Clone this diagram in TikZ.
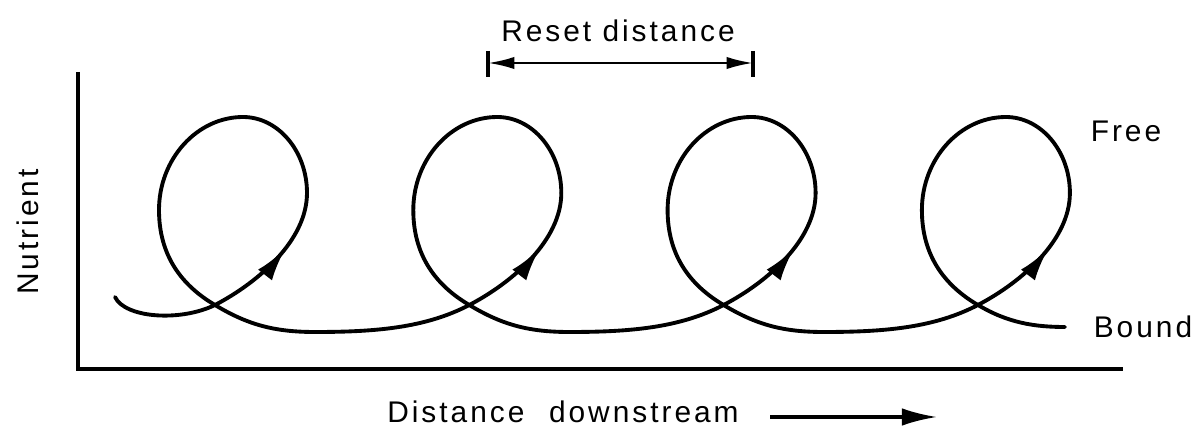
\documentclass[tikz,border=0pt]{standalone}
\usepackage{fontspec}
\setmainfont{Liberation Sans}[LetterSpace=10]
\usetikzlibrary{arrows.meta,decorations.markings}

\begin{document}
\begin{tikzpicture}[
  x=0.02cm, y=-0.02cm,
  font=\fontsize{17}{20}\selectfont,
  txt/.style={anchor=base, inner sep=0pt},
  axis/.style={line width=2.2pt},
  curve/.style={line width=2.2pt, line cap=round},
  midarrow/.style={postaction={decorate}, decoration={markings,
    mark=at position 0.6 with {\arrow{Latex[length=19pt,width=10pt]}}}},
  dim/.style={line width=1.4pt, {Latex[length=15pt,width=7pt]}-{Latex[length=15pt,width=7pt]}},
  tick/.style={line width=1.8pt},
  flow/.style={line width=1.8pt, -{Latex[length=20pt,width=10pt]}}
]
\useasboundingbox (0,0) rectangle (1194,428);

\coordinate (ytop) at (78,72);
\coordinate (orig) at (78,369);
\coordinate (xend) at (1123,369);
\draw[axis] (ytop) -- (orig) -- (xend);

\draw[curve] (115,297) .. controls (125,318) and (180,322) .. (215,305);
\foreach \k in {0,...,3}{
  \begin{scope}[shift={(\k*254.3,0)}]
    \draw[curve, midarrow] (215,305) .. controls (259,282) and (307,240) .. (307,193);
    \draw[curve] (307,193) .. controls (307,151) and (278,117) .. (243,117)
      .. controls (197,117) and (159,159) .. (159,210)
      .. controls (159,255) and (181,285) .. (215,305);
  \end{scope}
}
\foreach \k in {0,...,2}{
  \draw[curve, shift={(\k*254.3,0)}] (215,305) .. controls (248,325) and (275,332) .. (315,332)
    .. controls (375,332) and (425.3,328) .. (469.3,305);
}
\draw[curve] (978,305) .. controls (1008,323) and (1035,327) .. (1065,327);

\coordinate (rl) at (488,63);
\coordinate (rr) at (753,63);
\coordinate (rlt) at (488,51);
\coordinate (rlb) at (488,77);
\coordinate (rrt) at (753,51);
\coordinate (rrb) at (753,77);
\draw[tick] (rlt) -- (rlb);
\draw[tick] (rrt) -- (rrb);
\draw[dim] (rl) -- (rr);
\node[txt] (reset) at (618,42) {Reset distance};

\node[txt] (free) at (1126,142) {Free};
\node[txt] (bound) at (1143,338) {Bound};
\node[txt, rotate=90] (nutr) at (38,232) {Nutrient};
\node[txt, anchor=base west] (dist) at (387,423) {Distance\hspace{14pt}downstream};

\coordinate (fl) at (770,417);
\coordinate (fr) at (937,417);
\draw[flow] (fl) -- (fr);
\end{tikzpicture}
\end{document}
